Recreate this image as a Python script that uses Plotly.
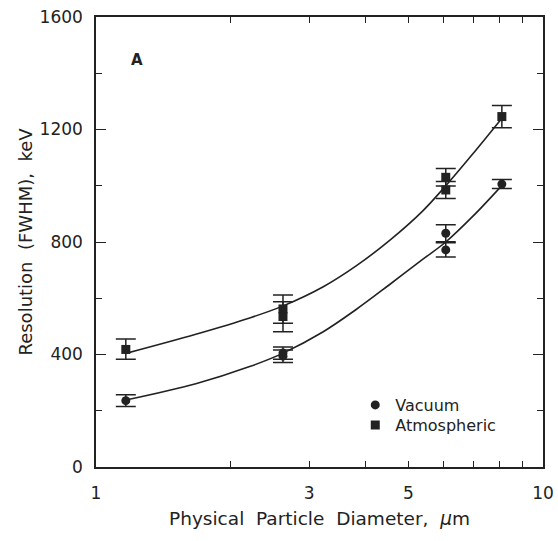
import plotly.graph_objects as go

# ---- data ----
vac_x = [1.166, 2.62, 2.62, 6.06, 6.06, 8.09]
vac_y = [236, 405, 394, 831, 772, 1006]
vac_err = [21, 22, 22, 30, 25, 16]

atm_x = [1.166, 2.62, 2.62, 6.06, 6.06, 8.09]
atm_y = [418, 562, 535, 1030, 985, 1246]
atm_err_plus = [37, 50, 53, 31, 30, 39]
atm_err_minus = [35, 51, 54, 31, 30, 40]

# fitted curves
vac_fit_x = [1.166, 1.672, 2.207, 2.615, 3.217, 3.819, 4.532, 5.378, 6.06, 6.953, 8.05]
vac_fit_y = [238, 296, 357, 404, 480, 560, 648, 738, 800, 890, 997]
atm_fit_x = [1.166, 1.672, 2.207, 2.615, 3.217, 3.819, 4.532, 5.378, 6.06, 6.953, 8.05]
atm_fit_y = [404, 472, 530, 572, 640, 715, 805, 910, 1000, 1112, 1236]

x_tickvals = [1, 2, 3, 4, 5, 6, 7, 8, 9, 10]
x_ticktext = ["1", "", "3", "", "5", "", "", "", "", "10"]
y_major = [0, 400, 800, 1200, 1600]
y_minor = [200, 600, 1000, 1400]

FONT = "DejaVu Sans"
INK = "#222"

fig = go.Figure()
fig.add_trace(go.Scatter(x=vac_fit_x, y=vac_fit_y, mode="lines",
                         line=dict(color=INK, width=1.6, shape="spline", smoothing=1.0),
                         showlegend=False, hoverinfo="skip"))
fig.add_trace(go.Scatter(x=atm_fit_x, y=atm_fit_y, mode="lines",
                         line=dict(color=INK, width=1.6, shape="spline", smoothing=1.0),
                         showlegend=False, hoverinfo="skip"))
fig.add_trace(go.Scatter(x=vac_x, y=vac_y, mode="markers", name="Vacuum", legend="legend",
                         marker=dict(symbol="circle", size=9, color=INK),
                         error_y=dict(type="data", array=vac_err, color=INK, thickness=1.5, width=10)))
fig.add_trace(go.Scatter(x=atm_x, y=atm_y, mode="markers", name="Atmospheric", legend="legend2",
                         marker=dict(symbol="square", size=9, color=INK),
                         error_y=dict(type="data", array=atm_err_plus, arrayminus=atm_err_minus,
                                      color=INK, thickness=1.5, width=10)))

fig.add_annotation(text="<b>A</b>", x=0.092, y=0.905, xref="paper", yref="paper", showarrow=False,
                   xanchor="center", yanchor="middle",
                   font=dict(family=FONT, size=15, color=INK))

legend_style = dict(xanchor="left", yanchor="middle", bgcolor="rgba(0,0,0,0)",
                    font=dict(family=FONT, size=16, color=INK), itemwidth=30)

fig.update_layout(
    width=558, height=541,
    margin=dict(l=96, r=15, t=17, b=74),
    paper_bgcolor="white", plot_bgcolor="white",
    font=dict(family=FONT, size=17, color=INK),
    legend=dict(x=0.58, y=0.1378, **legend_style),
    legend2=dict(x=0.58, y=0.0933, **legend_style),
    xaxis=dict(type="log", range=[0, 1], tickvals=x_tickvals, ticktext=x_ticktext,
               ticks="inside", ticklen=6, tickwidth=1.2, tickcolor=INK,
               showline=True, linecolor=INK, linewidth=1.5, mirror="allticks",
               showgrid=False, zeroline=False, ticklabelstandoff=10, automargin=False,
               title=dict(text="Physical  Particle  Diameter,  <i>μ</i>m", font=dict(size=18.5), standoff=10)),
    yaxis=dict(range=[0, 1600], tickvals=y_major, ticks="inside", ticklen=10, tickwidth=1.2, tickcolor=INK,
               showline=True, linecolor=INK, linewidth=1.5, mirror="allticks",
               showgrid=False, zeroline=False, ticklabelstandoff=8, automargin=False,
               minor=dict(tickvals=y_minor, ticks="inside", ticklen=6, tickwidth=1.2, tickcolor=INK, showgrid=False),
               title=dict(text="Resolution  (FWHM),  keV", font=dict(size=18), standoff=2)),
)

fig.write_html("out.html", config={"displayModeBar": False},
               post_script="document.body.style.margin='0';")
